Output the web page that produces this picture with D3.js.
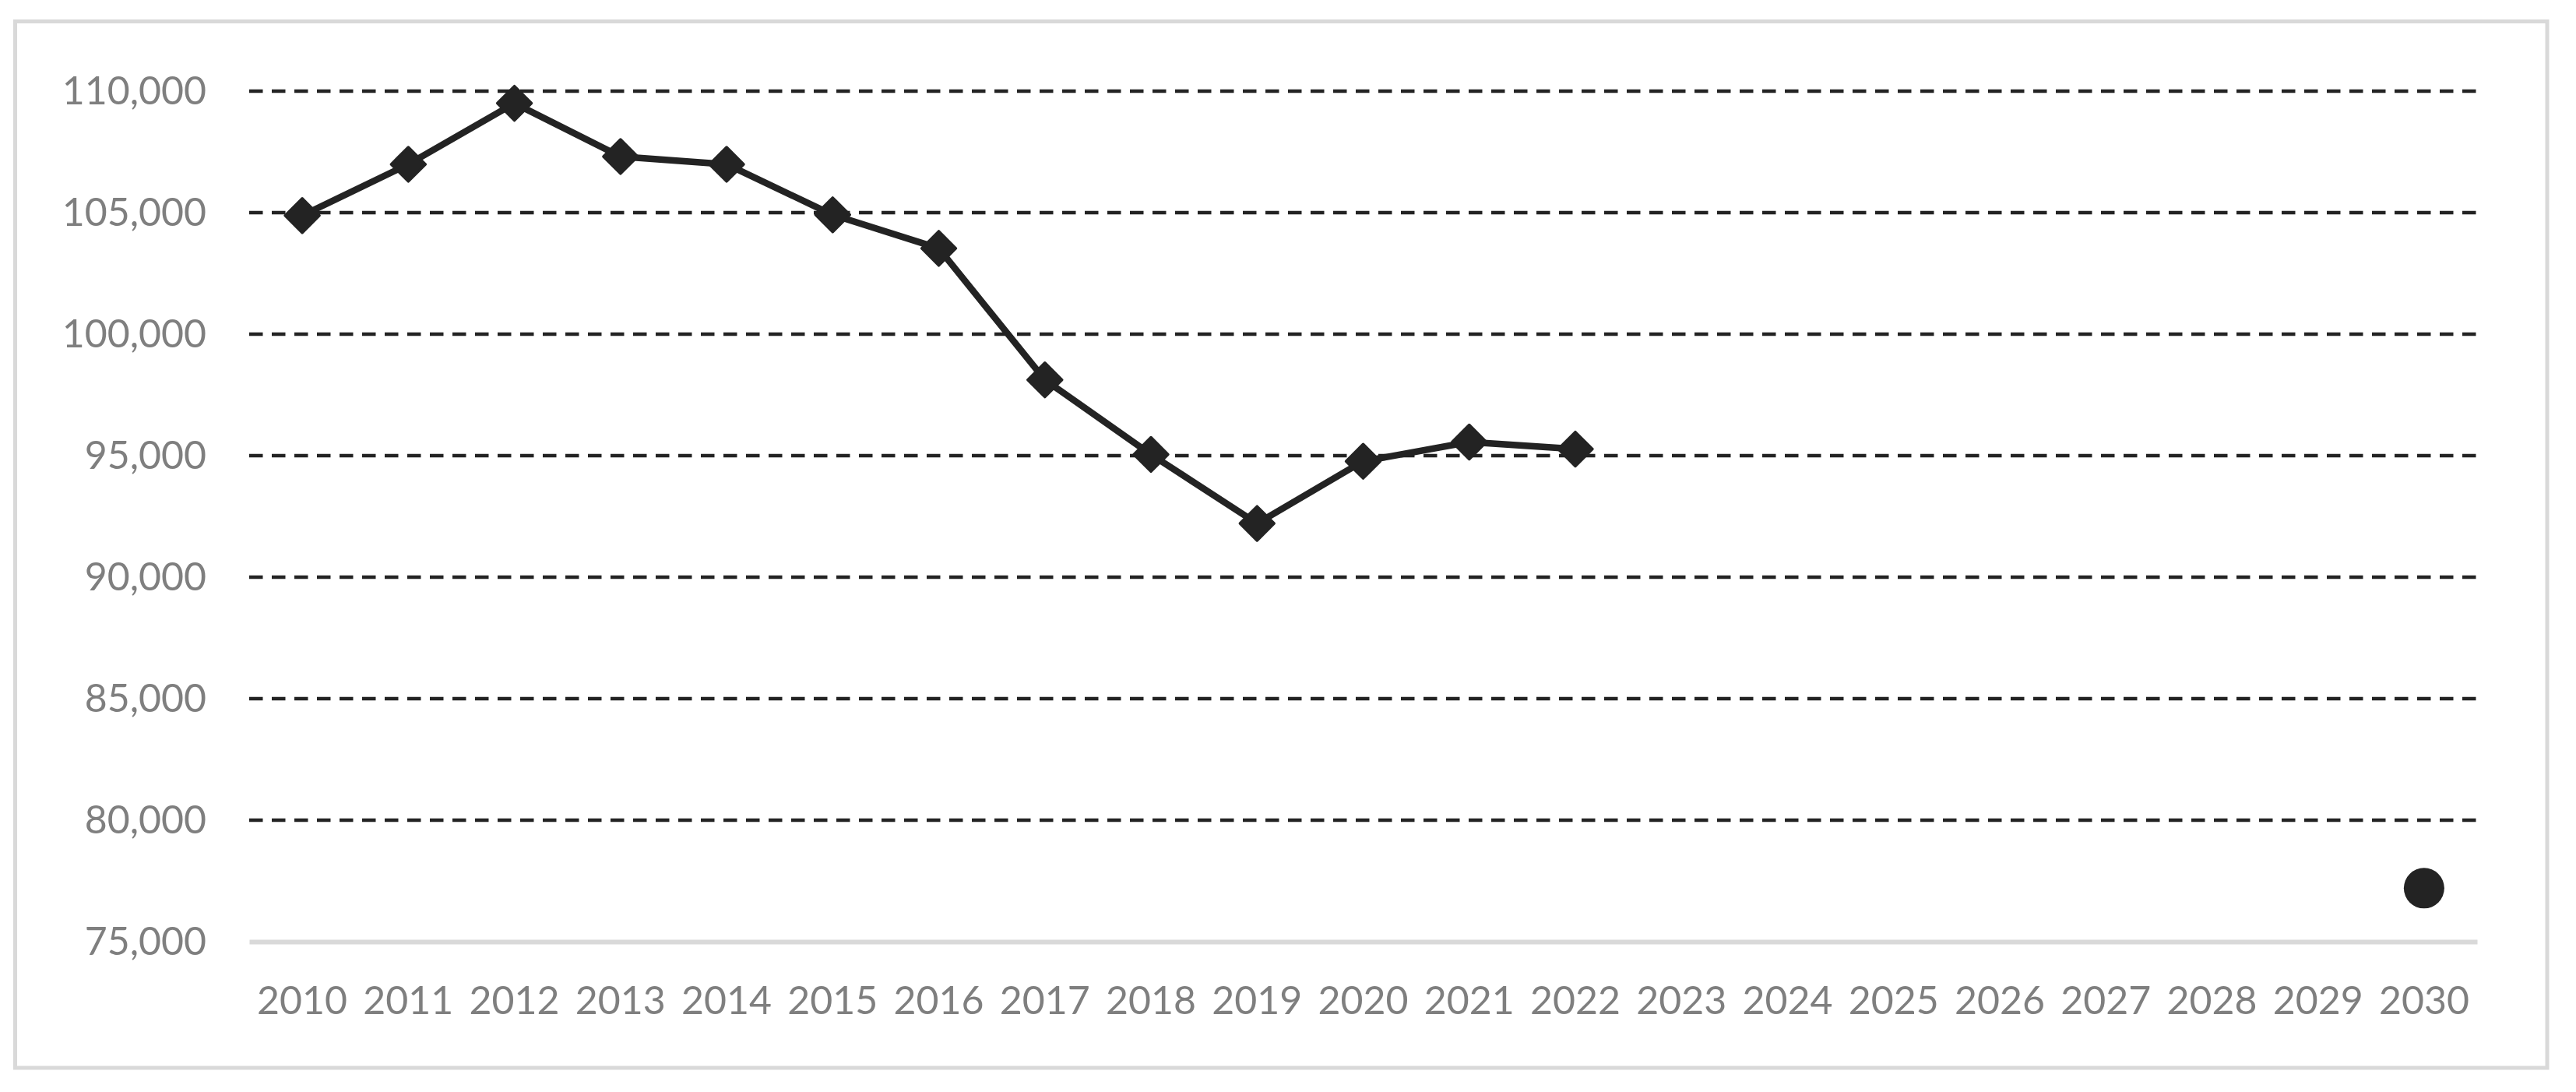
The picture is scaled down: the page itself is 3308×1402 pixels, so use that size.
<!DOCTYPE html>
<html>
<head>
<meta charset="utf-8">
<script src="https://cdn.jsdelivr.net/npm/d3@7"></script>
<style>
  html, body { margin: 0; padding: 0; background: #ffffff; }
  svg { display: block; }
</style>
</head>
<body>
<svg id="chart" width="3308" height="1402"></svg>
<script>
// ---- data ----
const years = ["2010","2011","2012","2013","2014","2015","2016","2017","2018","2019","2020",
               "2021","2022","2023","2024","2025","2026","2027","2028","2029","2030"];
const actualValues = [104880, 106990, 109500, 107310, 106990, 104910, 103530, 98120, 95050,
                      92210, 94770, 95560, 95270, null, null, null, null, null, null, null, null];
const targetValues = [null, null, null, null, null, null, null, null, null, null, null,
                      null, null, null, null, null, null, null, null, null, 77200];
const yTicks = [75000, 80000, 85000, 90000, 95000, 100000, 105000, 110000];

(function () {
// ---- layout ----
const plotLeft = 320, plotRight = 3181, plotTop = 117, plotBottom = 1209;
const ink = "#232323";
const labelColor = "#7f7f7f";
const font = "Lato, 'Open Sans', sans-serif";

const svg = d3.select("#chart");

// outer border
svg.append("rect")
  .attr("x", 19.5).attr("y", 27.5)
  .attr("width", 3271 - 19.5).attr("height", 1371 - 27.5)
  .attr("fill", "#ffffff")
  .attr("stroke", "#d9d9d9")
  .attr("stroke-width", 5);

const x = d3.scaleBand().domain(years).range([plotLeft, plotRight]).padding(0);
const y = d3.scaleLinear().domain([75000, 110000]).range([plotBottom, plotTop]);

// gridlines (dashed)
svg.append("g").selectAll("line")
  .data(yTicks.filter(t => t > 75000))
  .join("line")
  .attr("x1", plotLeft).attr("x2", plotRight)
  .attr("y1", d => y(d)).attr("y2", d => y(d))
  .attr("stroke", ink)
  .attr("stroke-width", 4.5)
  .attr("stroke-dasharray", "17.5 11.5");

// y axis labels
const yAxis = svg.append("g")
  .attr("transform", `translate(${plotLeft},0)`)
  .call(d3.axisLeft(y).tickValues(yTicks).tickFormat(d3.format(",")).tickSize(0).tickPadding(55));
yAxis.select(".domain").remove();
yAxis.selectAll("text")
  .attr("fill", labelColor)
  .style("font-family", font)
  .style("font-size", "50px")
  .attr("dy", "0.32em");

// x axis
const xAxis = svg.append("g")
  .attr("transform", `translate(0,${plotBottom})`)
  .call(d3.axisBottom(x).tickSize(0).tickPadding(0));
xAxis.select(".domain")
  .attr("stroke", "#d9d9d9")
  .attr("stroke-width", 6);
xAxis.selectAll("text")
  .attr("fill", labelColor)
  .style("font-family", font)
  .style("font-size", "50px")
  .attr("y", 93)
  .attr("dy", 0);

// actual series line
const pts = years.map((yr, i) => ({ yr, v: actualValues[i] }));
const line = d3.line()
  .defined(d => d.v != null)
  .x(d => x(d.yr) + x.bandwidth() / 2)
  .y(d => y(d.v));
svg.append("path")
  .datum(pts)
  .attr("fill", "none")
  .attr("stroke", ink)
  .attr("stroke-width", 8.5)
  .attr("stroke-linejoin", "round")
  .attr("d", line);

// diamond markers
const diamond = d3.symbol().type(d3.symbolSquare).size(31 * 31);
svg.append("g").selectAll("path")
  .data(pts.filter(d => d.v != null))
  .join("path")
  .attr("d", diamond)
  .attr("transform", d => `translate(${x(d.yr) + x.bandwidth() / 2},${y(d.v)}) rotate(45)`)
  .attr("fill", ink)
  .attr("stroke", ink)
  .attr("stroke-width", 3.5)
  .attr("stroke-linejoin", "round");

// target point(s)
const tpts = years.map((yr, i) => ({ yr, v: targetValues[i] })).filter(d => d.v != null);
svg.append("g").selectAll("circle")
  .data(tpts)
  .join("circle")
  .attr("cx", d => x(d.yr) + x.bandwidth() / 2)
  .attr("cy", d => y(d.v))
  .attr("r", 26)
  .attr("fill", ink);
})();
</script>
</body>
</html>
